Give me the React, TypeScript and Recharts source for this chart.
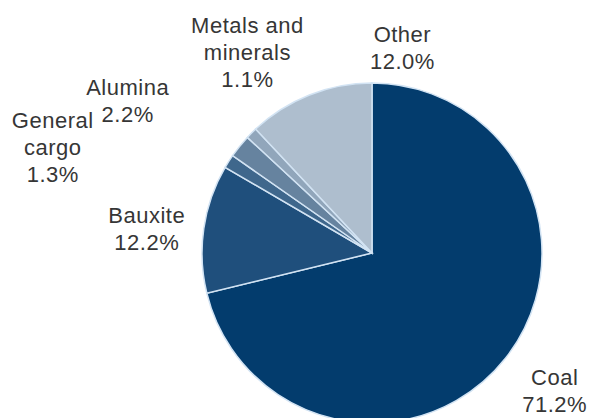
import { PieChart, Pie, Cell } from "recharts"

const categories = ["Coal", "Bauxite", "General cargo", "Alumina", "Metals and minerals", "Other"]
const shares = [71.2, 12.2, 1.3, 2.2, 1.1, 12.0]
const labelLines = [
  ["Coal", "71.2%"],
  ["Bauxite", "12.2%"],
  ["General", "cargo", "1.3%"],
  ["Alumina", "2.2%"],
  ["Metals and", "minerals", "1.1%"],
  ["Other", "12.0%"],
]
const sliceColors = ["#033c6d", "#1f4f7c", "#3f678c", "#66839f", "#91a6bb", "#aebece"]

// label nudges from the slice edge point (x, first baseline)
const labelOffsets: [number, number][] = [
  [49, 27],
  [-57, -6],
  [-176, -33],
  [-112, -51],
  [-4, -100],
  [93, -53],
]

const RADIAN = Math.PI / 180
const LINE_HEIGHT = 27

const data = categories.map((name, i) => ({ name, value: shares[i] }))

function renderLabel(props: any) {
  const { cx, cy, midAngle, outerRadius, index } = props
  const ex = cx + outerRadius * Math.cos(-midAngle * RADIAN)
  const ey = cy + outerRadius * Math.sin(-midAngle * RADIAN)
  const [dx, dy] = labelOffsets[index]
  const lines = labelLines[index]
  return (
    <text
      x={ex + dx}
      y={ey + dy}
      textAnchor="middle"
      fill="#363636"
      fontSize={22}
      letterSpacing={0.5}
      fontFamily="'Liberation Sans', Arial, sans-serif"
    >
      {lines.map((line, i) => (
        <tspan key={i} x={ex + dx} dy={i === 0 ? 0 : LINE_HEIGHT}>
          {line}
        </tspan>
      ))}
    </text>
  )
}

export default function App() {
  return (
    <div style={{ position: "absolute", left: 0, top: 0, background: "#fff" }}>
      <PieChart width={590} height={418} margin={{ top: 0, right: 0, bottom: 0, left: 0 }}>
        <Pie
          data={data}
          dataKey="value"
          nameKey="name"
          cx={372}
          cy={253}
          outerRadius={170}
          startAngle={90}
          endAngle={-270}
          stroke="#d2e3f3"
          strokeWidth={1.5}
          label={renderLabel}
          labelLine={false}
          isAnimationActive={false}
        >
          {data.map((d, i) => (
            <Cell key={d.name} fill={sliceColors[i]} />
          ))}
        </Pie>
      </PieChart>
    </div>
  )
}
